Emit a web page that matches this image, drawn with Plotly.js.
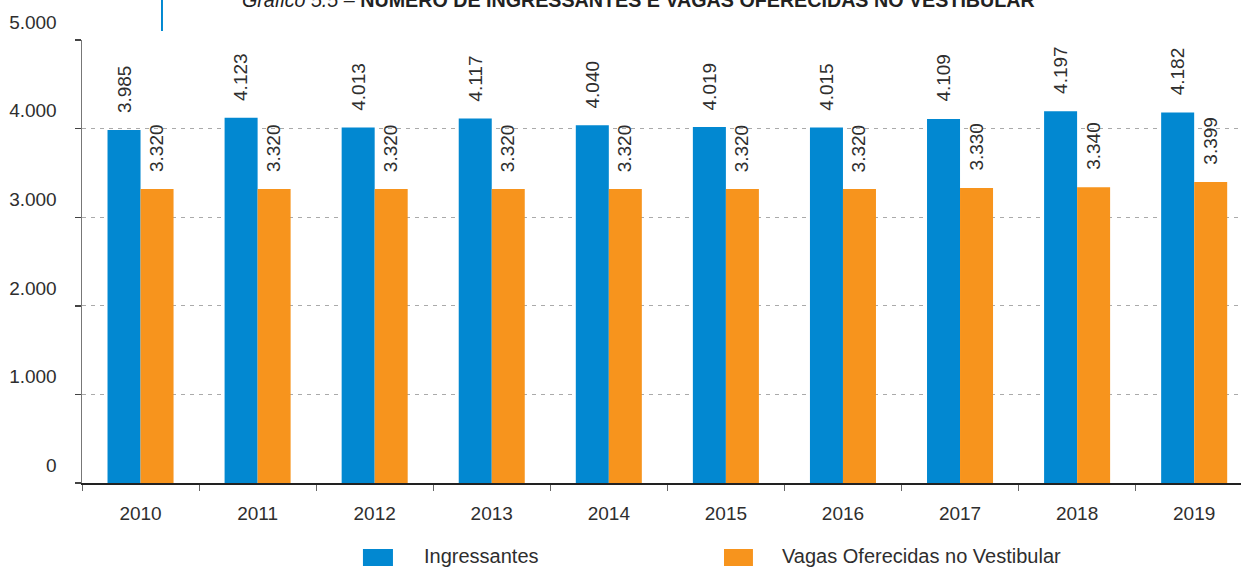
<!DOCTYPE html>
<html>
<head>
<meta charset="utf-8">
<script src="https://cdn.plot.ly/plotly-3.0.1.min.js"></script>
<style>html,body{margin:0;padding:0;background:#fff;}#chart{width:1241px;height:568px;}</style>
</head>
<body>
<div id="chart"></div>
<script>
const years = ['2010','2011','2012','2013','2014','2015','2016','2017','2018','2019'];
const ingressantes = [3985, 4123, 4013, 4117, 4040, 4019, 4015, 4109, 4197, 4182];
const vagas = [3320, 3320, 3320, 3320, 3320, 3320, 3320, 3330, 3340, 3399];
const seriesNames = ['Ingressantes', 'Vagas Oferecidas no Vestibular'];
const yTicks = [0, 1000, 2000, 3000, 4000, 5000];
const titleLabel = 'Gráfico 5.5 –';
const titleText = 'NÚMERO DE INGRESSANTES E VAGAS OFERECIDAS NO VESTIBULAR';

const FONT = '"Liberation Sans", Arial, sans-serif';
const BLUE = '#0288d1';
const ORANGE = '#f7941d';
const TXT = '#2e2e2e';

function fmt(v){ return String(v).replace(/\B(?=(\d{3})+(?!\d))/g, '.'); }

const traces = [
  {type:'bar', name:seriesNames[0], x:years, y:ingressantes, marker:{color:BLUE}, showlegend:false, hoverinfo:'none'},
  {type:'bar', name:seriesNames[1], x:years, y:vagas, marker:{color:ORANGE}, showlegend:false, hoverinfo:'none'}
];

const annotations = [];
const halfBar = 16.5;
years.forEach((yr, i) => {
  annotations.push({x:i, y:ingressantes[i], xref:'x', yref:'y', text:fmt(ingressantes[i]), textangle:-90,
    showarrow:false, xanchor:'center', yanchor:'bottom', xshift:-halfBar, yshift:15,
    font:{family:FONT, size:19, color:TXT}});
  annotations.push({x:i, y:vagas[i], xref:'x', yref:'y', text:fmt(vagas[i]), textangle:-90,
    showarrow:false, xanchor:'center', yanchor:'bottom', xshift:halfBar, yshift:15,
    font:{family:FONT, size:19, color:TXT}});
});

// title (cut off at the top as in the original)
annotations.push({xref:'paper', yref:'paper', x:0.1363, y:1, xanchor:'left', yanchor:'bottom', yshift:27,
  showarrow:false, text:'<i>'+titleLabel+'</i> <b>'+titleText+'</b>',
  font:{family:FONT, size:19.7, color:'#222'}});

// legend texts
annotations.push({xref:'paper', yref:'paper', x:0.2934, y:-0.1648, xanchor:'left', yanchor:'middle',
  showarrow:false, text:seriesNames[0], font:{family:FONT, size:20, color:TXT}});
annotations.push({xref:'paper', yref:'paper', x:0.6023, y:-0.1648, xanchor:'left', yanchor:'middle',
  showarrow:false, text:seriesNames[1], font:{family:FONT, size:20, color:TXT}});

const shapes = [
  {type:'line', xref:'paper', yref:'paper', x0:0.069, x1:0.069, y0:1.0203, y1:1.1, line:{color:'#0088d1', width:2}},
  {type:'rect', xref:'paper', yref:'paper', x0:0.2424, x1:0.2683, y0:-0.1874, y1:-0.1490, fillcolor:BLUE, line:{width:0}},
  {type:'rect', xref:'paper', yref:'paper', x0:0.5539, x1:0.5789, y0:-0.1874, y1:-0.1490, fillcolor:ORANGE, line:{width:0}}
];

const layout = {
  width:1241, height:568,
  margin:{l:82, r:0, t:40, b:85, pad:0},
  paper_bgcolor:'#ffffff', plot_bgcolor:'#ffffff',
  separators:',.',
  barmode:'group', bargap:0.436, bargroupgap:0,
  font:{family:FONT, size:19, color:TXT},
  xaxis:{type:'category', range:[-0.5, 9.4], tickson:'boundaries', ticks:'outside', ticklen:6, tickwidth:1,
    tickcolor:'#666', showline:true, linecolor:'#222', linewidth:2, showgrid:false, zeroline:false,
    tickfont:{family:FONT, size:19, color:TXT}, ticklabelstandoff:12, fixedrange:true},
  yaxis:{range:[0, 5002], tickvals:yTicks, ticktext:yTicks.map(fmt), ticks:'outside', ticklen:6, tickwidth:1.5,
    tickcolor:'#444', showline:true, linecolor:'#777', linewidth:1.5, showgrid:true, gridcolor:'#aaaaaa',
    griddash:'4px,5px', gridwidth:1, zeroline:false, ticklabelshift:-18, ticklabelstandoff:14,
    tickfont:{family:FONT, size:19, color:TXT}, fixedrange:true},
  annotations:annotations,
  shapes:shapes,
  showlegend:false
};

Plotly.newPlot('chart', traces, layout, {staticPlot:true, displayModeBar:false});
</script>
</body>
</html>
